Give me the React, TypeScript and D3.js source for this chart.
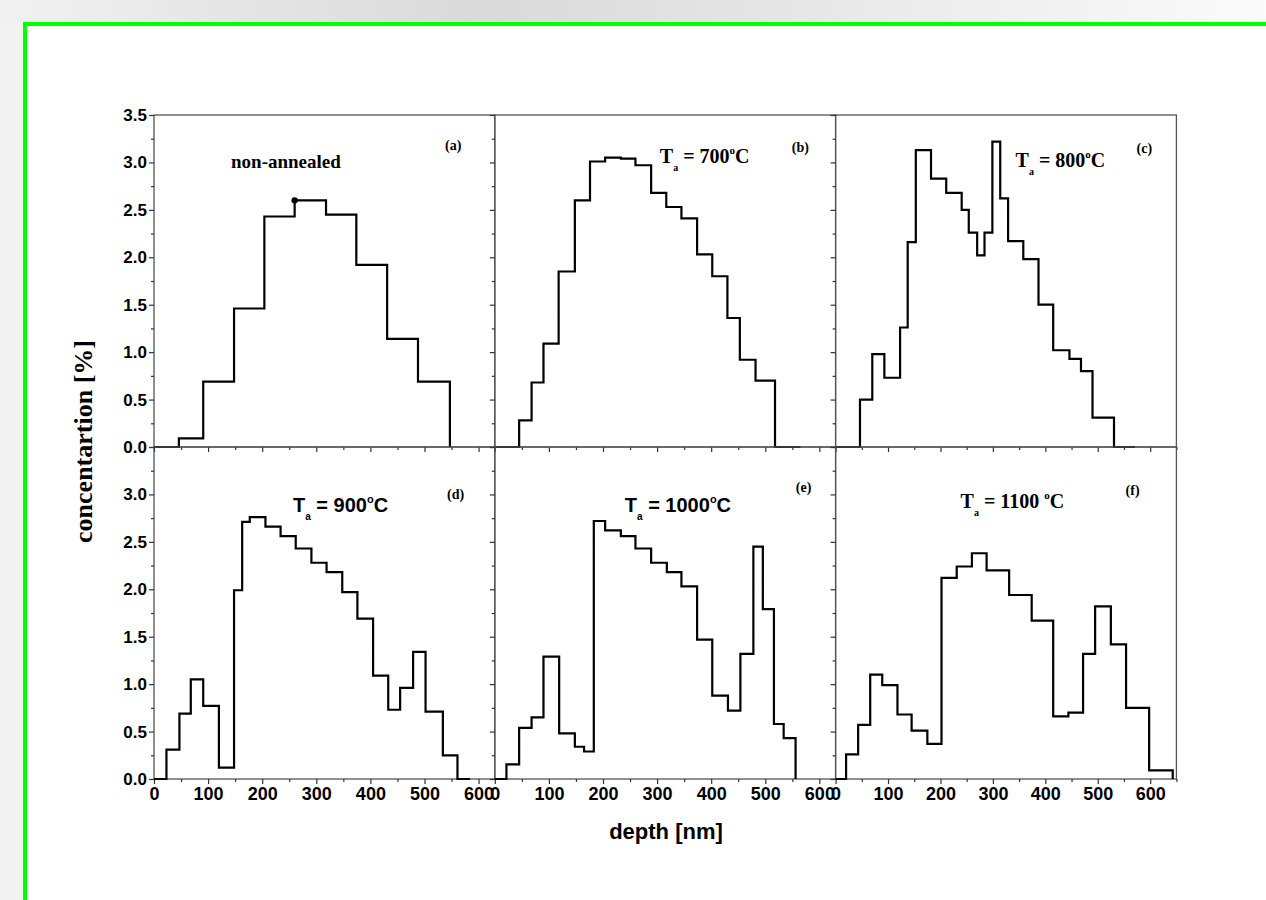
import React, { useEffect, useRef } from "react";
import * as d3 from "d3";

// Step profiles: edges are the bin boundaries in nm, levels the concentration (%) in each bin
const edgesA = [0, 46, 91, 148, 204, 260, 318, 374, 431, 488, 547];
const levelsA = [0, 0.09, 0.69, 1.46, 2.43, 2.6, 2.45, 1.92, 1.14, 0.69];

const edgesB = [0, 45, 68, 90, 118, 148, 176, 204, 233, 260, 289, 317, 345, 374, 402, 430, 453, 482, 518, 565];
const levelsB = [0, 0.28, 0.68, 1.09, 1.85, 2.6, 3.01, 3.05, 3.04, 2.97, 2.68, 2.53, 2.41, 2.03, 1.8, 1.36, 0.92, 0.7, 0];

const edgesC = [0, 46.5, 70, 93, 123, 137.5, 153, 182, 211, 240.5, 254, 270, 284, 299, 314, 329, 358, 387, 415, 446, 468, 490, 531, 571];
const levelsC = [0, 0.5, 0.98, 0.73, 1.26, 2.16, 3.13, 2.83, 2.68, 2.5, 2.26, 2.02, 2.26, 3.22, 2.62, 2.17, 1.98, 1.5, 1.02, 0.93, 0.8, 0.31, 0];

const edgesD = [0, 23, 47, 68, 91, 120, 148, 163, 177, 206, 234, 262, 291, 319, 348, 376, 405, 433, 455, 479, 502, 534, 561, 584];
const levelsD = [0, 0.31, 0.69, 1.05, 0.77, 0.12, 1.99, 2.71, 2.76, 2.66, 2.56, 2.43, 2.28, 2.18, 1.97, 1.69, 1.09, 0.73, 0.96, 1.34, 0.71, 0.25, 0];

const edgesE = [0, 21.5, 45, 68, 90, 119, 148, 165, 183, 204, 233, 260, 289, 318, 345, 374, 402, 431, 454, 478, 495.5, 516, 534, 556];
const levelsE = [0, 0.155, 0.54, 0.65, 1.29, 0.48, 0.34, 0.29, 2.72, 2.62, 2.56, 2.43, 2.28, 2.18, 2.03, 1.47, 0.88, 0.72, 1.32, 2.45, 1.79, 0.58, 0.43];

const edgesF = [0, 20, 43, 66, 89, 118, 145, 175, 202, 231, 260, 288, 331, 374, 415, 444, 472, 495, 525, 554, 598, 643];
const levelsF = [0, 0.26, 0.57, 1.1, 0.99, 0.68, 0.51, 0.37, 2.12, 2.24, 2.38, 2.2, 1.94, 1.67, 0.66, 0.7, 1.32, 1.82, 1.42, 0.75, 0.09];

const panelTags = ["(a)", "(b)", "(c)", "(d)", "(e)", "(f)"];
const annealTemps = ["", "700", "800", "900", "1000", "1100 "];
const depthMax = [630, 630, 650, 630, 630, 650];
const markedPoint = [260, 2.6]; // the dot in panel (a)

const yMajor = [0, 0.5, 1, 1.5, 2, 2.5, 3, 3.5];
const yMinor = [0.25, 0.75, 1.25, 1.75, 2.25, 2.75, 3.25];
const xMajor = [0, 100, 200, 300, 400, 500, 600];
const xMinor = [50, 150, 250, 350, 450, 550, 650];

const W = 1266;
const H = 900;
const left = 154;
const top = 115;
const pw = 340.8;
const ph = 332;

const sans = "'Liberation Sans', Arial, sans-serif";
const serif = "'Liberation Serif', 'Times New Roman', serif";

export default function App() {
  const svgRef = useRef<SVGSVGElement | null>(null);

  useEffect(() => {
    if (!svgRef.current) return;
    const svg = d3.select(svgRef.current);
    svg.selectAll("*").remove();

    const series = [
      [edgesA, levelsA],
      [edgesB, levelsB],
      [edgesC, levelsC],
      [edgesD, levelsD],
      [edgesE, levelsE],
      [edgesF, levelsF],
    ];

    // slide-like background: grey band on top, green frame
    const grad = svg.append("defs").append("linearGradient").attr("id", "band");
    grad.append("stop").attr("offset", "0").attr("stop-color", "#f1f1f1");
    grad.append("stop").attr("offset", "0.38").attr("stop-color", "#d9d9d9");
    grad.append("stop").attr("offset", "1").attr("stop-color", "#fbfbfb");
    svg.append("rect").attr("width", W).attr("height", H).attr("fill", "#fff");
    svg.append("rect").attr("width", W).attr("height", 22).attr("fill", "url(#band)");
    svg.append("rect").attr("y", 22).attr("width", 23).attr("height", H - 22).attr("fill", "#f2f2f2");
    svg.append("rect").attr("x", 23).attr("y", 22).attr("width", W - 23).attr("height", 4).attr("fill", "#00ff00");
    svg.append("rect").attr("x", 23).attr("y", 22).attr("width", 4).attr("height", H - 22).attr("fill", "#00ff00");

    series.forEach(([edges, levels], i) => {
      const col = i % 3;
      const row = Math.floor(i / 3);
      const x0 = left + col * pw;
      const y0 = top + row * ph;
      const x = d3.scaleLinear().domain([0, depthMax[i]]).range([x0, x0 + pw]);
      const y = d3.scaleLinear().domain([0, 3.5]).range([y0 + ph, y0]);
      const g = svg.append("g");

      g.append("rect")
        .attr("x", x0)
        .attr("y", y0)
        .attr("width", pw)
        .attr("height", ph)
        .attr("fill", "none")
        .attr("stroke", "#555")
        .attr("stroke-width", 1.3);

      // y axis, labels only on the first column
      const yLabels = col === 0 ? (row === 0 ? yMajor : yMajor.slice(0, 7)) : [];
      const yAx = g.append("g")
        .attr("transform", `translate(${x0},0)`)
        .call(
          d3.axisLeft(y)
            .tickValues(yMajor)
            .tickSize(5)
            .tickPadding(2)
            .tickFormat((d: any) => (yLabels.includes(d) ? d3.format(".1f")(d) : ""))
        );
      yAx.append("g").call(d3.axisLeft(y).tickValues(yMinor).tickSize(3).tickFormat(() => ""));
      yAx.selectAll(".domain").remove();

      const xAx = g.append("g")
        .attr("transform", `translate(0,${y0 + ph})`)
        .call(
          d3.axisBottom(x)
            .tickValues(xMajor)
            .tickSize(5)
            .tickPadding(3)
            .tickFormat((d: any) => (row === 1 ? String(d) : ""))
        );
      xAx.append("g").call(d3.axisBottom(x).tickValues(xMinor.filter((v) => v <= depthMax[i])).tickSize(3).tickFormat(() => ""));
      xAx.selectAll(".domain").remove();

      [yAx, xAx].forEach((ax) => {
        ax.selectAll("line").attr("stroke", "#333").attr("stroke-width", 1.2);
        ax.selectAll("text")
          .attr("fill", "#000")
          .style("font-family", sans)
          .style("font-weight", "bold");
      });
      yAx.selectAll("text").style("font-size", "17px");
      xAx.selectAll("text").style("font-size", "18px");

      // step profile
      const pts: [number, number][] = (levels as number[]).map((v, k) => [(edges as number[])[k], v]);
      pts.push([(edges as number[])[edges.length - 1], 0]);
      const line = d3.line<[number, number]>()
        .x((d) => x(d[0]))
        .y((d) => y(d[1]))
        .curve(d3.curveStepAfter);
      g.append("path")
        .attr("d", line(pts))
        .attr("fill", "none")
        .attr("stroke", "#000")
        .attr("stroke-width", 2.2);

      // panel tag
      const tagPos = [[291, 35], [297, 37], [301, 38], [293, 52], [301, 45], [290, 48]][i];
      g.append("text")
        .attr("x", x0 + tagPos[0])
        .attr("y", y0 + tagPos[1])
        .style("font-family", serif)
        .style("font-weight", "bold")
        .style("font-size", "14px")
        .text(panelTags[i]);

      if (i === 0) {
        g.append("text")
          .attr("x", x0 + 77)
          .attr("y", y0 + 53)
          .style("font-family", serif)
          .style("font-weight", "bold")
          .style("font-size", "19px")
          .text("non-annealed");
        g.append("circle")
          .attr("cx", x(markedPoint[0]))
          .attr("cy", y(markedPoint[1]))
          .attr("r", 3.2)
          .attr("fill", "#000");
      } else {
        const labelPos = [[0, 0], [165, 48], [180, 52], [139, 65], [130, 65], [125, 61]][i];
        const fam = i === 3 || i === 4 ? sans : serif;
        const t = g.append("text")
          .attr("x", x0 + labelPos[0])
          .attr("y", y0 + labelPos[1])
          .style("font-family", fam)
          .style("font-weight", "bold")
          .style("font-size", "20px");
        t.append("tspan").text("T");
        t.append("tspan").attr("dy", 8).style("font-size", "10px").text("a");
        t.append("tspan").attr("dy", -8).text(` = ${annealTemps[i]}`);
        t.append("tspan").attr("dy", -9).style("font-size", "11px").text("o");
        t.append("tspan").attr("dy", 9).text("C");
      }
    });

    svg.append("text")
      .attr("transform", `translate(92,${441.5}) rotate(-90)`)
      .attr("text-anchor", "middle")
      .style("font-family", serif)
      .style("font-weight", "bold")
      .style("font-size", "26px")
      .text("concentartion [%]");

    svg.append("text")
      .attr("x", 666)
      .attr("y", 839)
      .attr("text-anchor", "middle")
      .style("font-family", sans)
      .style("font-weight", "bold")
      .style("font-size", "22px")
      .text("depth [nm]");
  }, []);

  return (
    <svg
      ref={svgRef}
      width={W}
      height={H}
      style={{ position: "absolute", left: 0, top: 0, display: "block" }}
    ></svg>
  );
}
